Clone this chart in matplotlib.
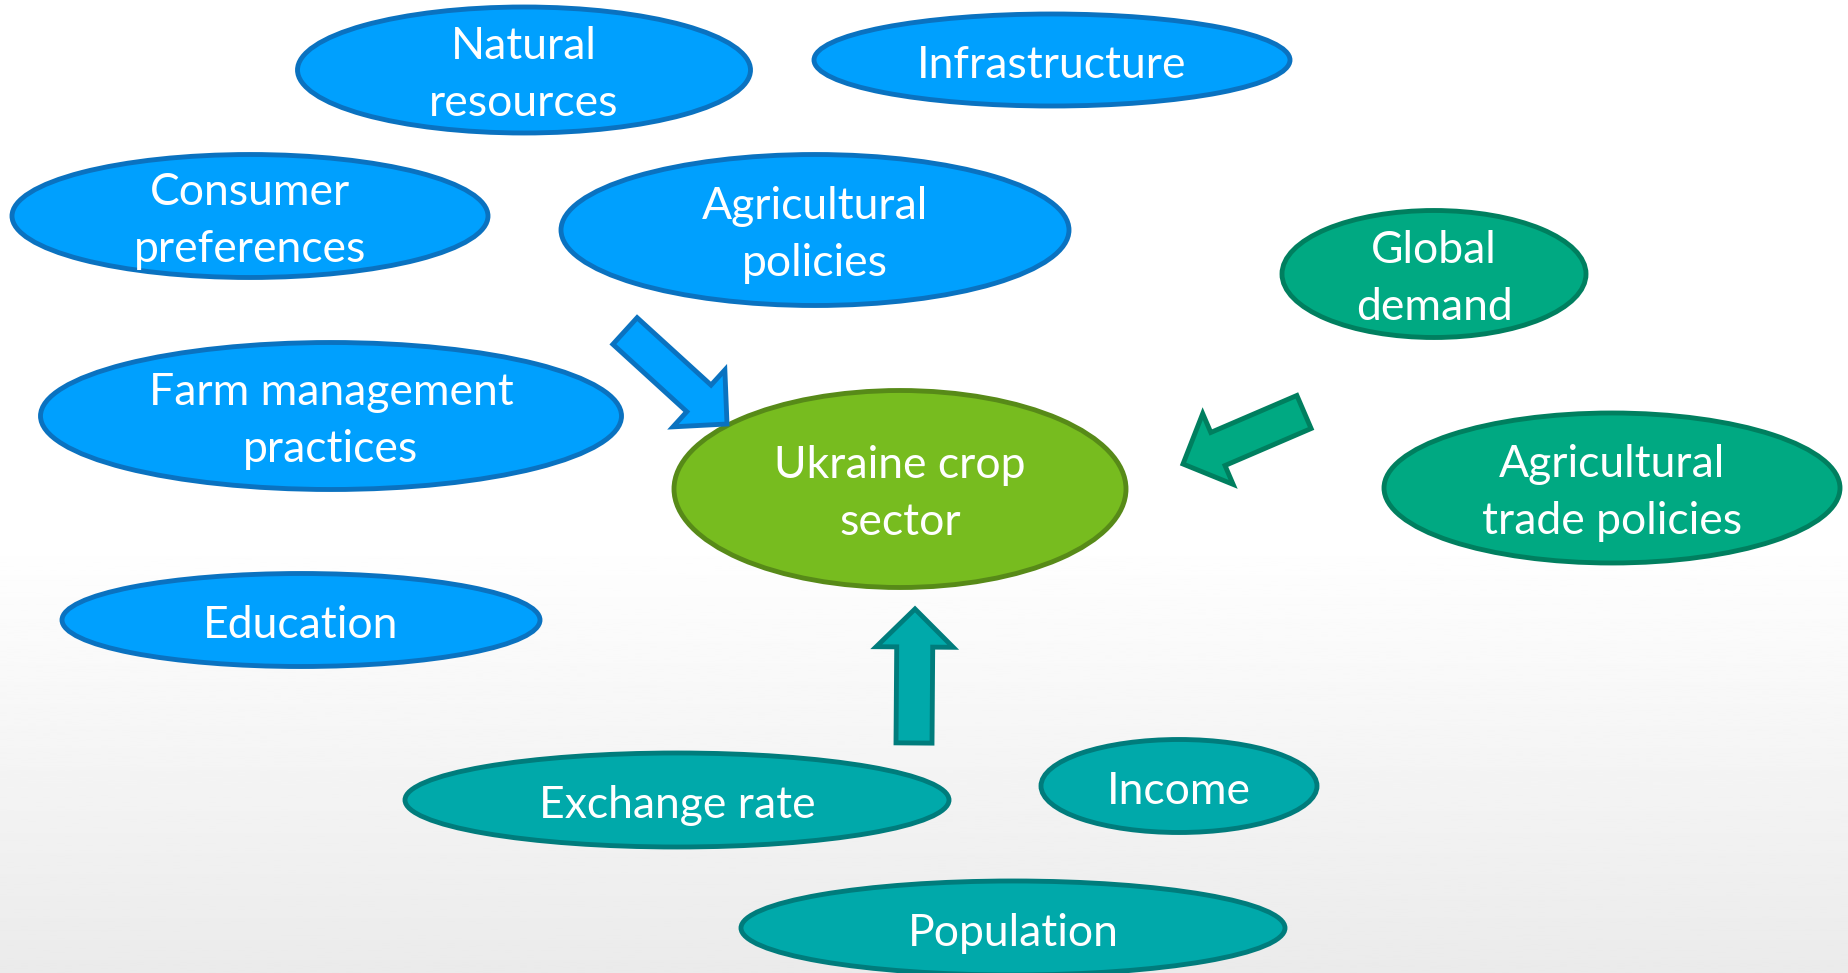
import numpy as np
import matplotlib.pyplot as plt
from matplotlib.patches import Ellipse, FancyArrow

# Ellipse labels and geometry (pixel coordinates, y downward)
labels = ['Natural\nresources', 'Infrastructure', 'Consumer\npreferences',
          'Agricultural\npolicies', 'Global\ndemand', 'Farm management\npractices',
          'Ukraine crop\nsector', 'Agricultural\ntrade policies', 'Education',
          'Exchange rate', 'Income', 'Population']
cx = [524, 1052, 250, 815, 1434, 331, 900, 1612, 301, 677, 1179, 1013]
cy = [70, 60, 216, 230, 274, 416, 489, 488, 620, 800, 786, 928]
widths = [453, 476, 476, 508, 304, 581, 452, 456, 478, 544, 276, 544]
heights = [126, 92, 123, 151, 127, 147, 197, 150, 93, 94, 93, 94]
groups = ['blue', 'blue', 'blue', 'blue', 'green', 'blue', 'lime', 'green',
          'blue', 'teal', 'teal', 'teal']

fills = {'blue': '#00a0fe', 'green': '#00a982', 'lime': '#77bc1f', 'teal': '#00a9aa'}
edges = {'blue': '#0a72c0', 'green': '#007f5f', 'lime': '#578a18', 'teal': '#007c7c'}

# Arrows: tail centre, tip, group
arrow_tail = [(625, 331), (1304, 412), (914, 743)]
arrow_tip = [(727, 424), (1183, 464), (915, 609)]
arrow_group = ['blue', 'green', 'teal']

W, H = 1849, 973
fig = plt.figure(figsize=(W / 100, H / 100), dpi=100)
ax = fig.add_axes([0, 0, 1, 1])
ax.set_xlim(0, W)
ax.set_ylim(H, 0)
ax.axis('off')

# background: white top fading to light grey at the bottom
t = np.linspace(0, 1, 400)
shade = np.where(t < 0.55, 1.0, 1.0 - 0.08 * (t - 0.55) / 0.45)
ax.imshow(shade[:, None], cmap='gray', vmin=0, vmax=1, extent=[0, W, H, 0],
          aspect='auto', zorder=0)

for lab, x, y, w, h, g in zip(labels, cx, cy, widths, heights, groups):
    ax.add_patch(Ellipse((x, y), w, h, facecolor=fills[g], edgecolor=edges[g],
                         linewidth=3.5, zorder=2))
    ax.text(x, y + 5, lab, ha='center', va='center', color='white', fontsize=32,
            family='Lato', linespacing=1.5, zorder=3)

for (x0, y0), (x1, y1), g in zip(arrow_tail, arrow_tip, arrow_group):
    ax.add_patch(FancyArrow(x0, y0, x1 - x0, y1 - y0, width=36, head_width=77,
                            head_length=38, length_includes_head=True,
                            facecolor=fills[g], edgecolor=edges[g],
                            linewidth=3.5, zorder=2))

fig.savefig('out.png', dpi=100)
